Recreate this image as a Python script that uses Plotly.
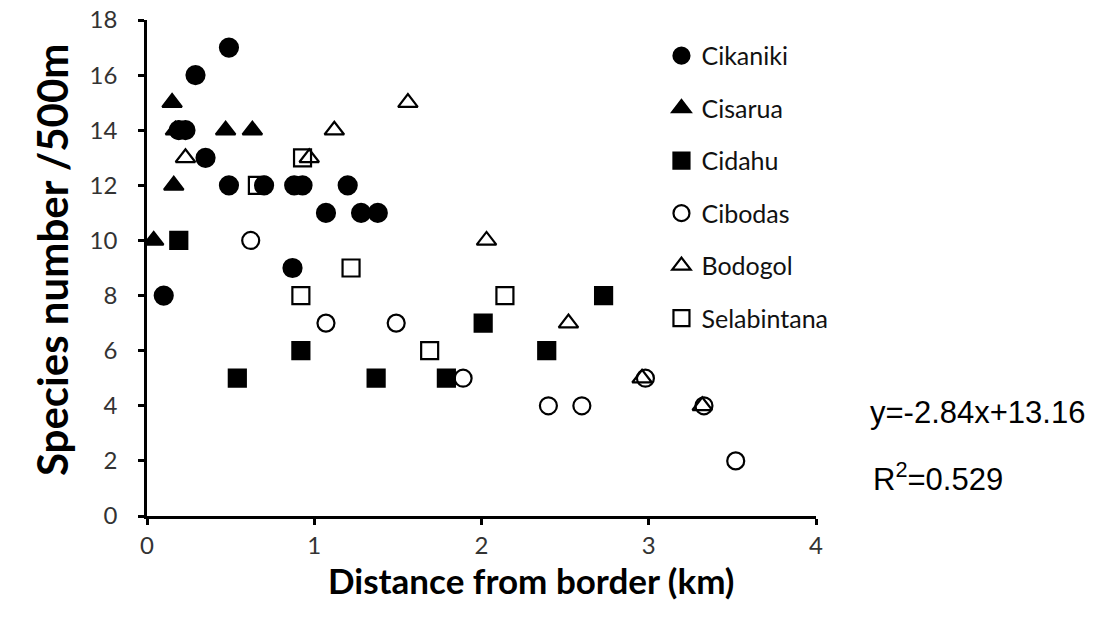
import plotly.graph_objects as go

# ---- data ----
cikaniki_x = [0.49, 0.29, 0.19, 0.23, 0.35, 0.49, 0.70, 0.88, 0.93, 1.20, 1.07, 1.28, 1.38, 0.87, 0.10]
cikaniki_y = [17, 16, 14, 14, 13, 12, 12, 12, 12, 12, 11, 11, 11, 9, 8]

cisarua_x = [0.15, 0.17, 0.47, 0.63, 0.16, 0.04]
cisarua_y = [15, 14, 14, 14, 12, 10]

cidahu_x = [0.19, 0.54, 0.92, 1.37, 1.79, 2.01, 2.39, 2.73]
cidahu_y = [10, 5, 6, 5, 5, 7, 6, 8]

cibodas_x = [0.19, 0.62, 1.07, 1.49, 1.89, 2.40, 2.60, 2.98, 3.33, 3.52]
cibodas_y = [14, 10, 7, 7, 5, 4, 4, 5, 4, 2]

bodogol_x = [0.23, 0.97, 1.12, 1.56, 2.03, 2.52, 2.96, 3.32]
bodogol_y = [13, 13, 14, 15, 10, 7, 5, 4]

selabintana_x = [0.66, 0.93, 1.22, 0.92, 1.69, 2.14]
selabintana_y = [12, 13, 9, 8, 6, 8]

x_ticks = [0, 1, 2, 3, 4]
y_ticks = [0, 2, 4, 6, 8, 10, 12, 14, 16, 18]

x_title = "<b>Distance from border (km)</b>"
y_title = "<b>Species number /500m</b>"
equation_text = "y=-2.84x+13.16"
r2_text = "R<sup>2</sup>=0.529"

series = [
    ("Cikaniki", cikaniki_x, cikaniki_y, "circle", 18),
    ("Cisarua", cisarua_x, cisarua_y, "triangle-up", 17),
    ("Cidahu", cidahu_x, cidahu_y, "square", 17),
    ("Cibodas", cibodas_x, cibodas_y, "circle-open", 17),
    ("Bodogol", bodogol_x, bodogol_y, "triangle-up-open", 17),
    ("Selabintana", selabintana_x, selabintana_y, "square-open", 17),
]

fig = go.Figure()
for name, xs, ys, sym, size in series:
    fig.add_trace(go.Scatter(
        x=xs, y=ys, mode="markers", name=name, legendgroup=name,
        marker=dict(symbol=sym, size=size, color="black",
                    line=dict(color="black", width=2.2)),
    ))

fig.update_layout(
    width=1093, height=627,
    margin=dict(l=147, r=277, t=20, b=111, autoexpand=False),
    paper_bgcolor="white", plot_bgcolor="white",
    font=dict(family="Lato", color="#222222"),
    showlegend=True,
    legend=dict(x=0.769, y=0.974, xanchor="left", yanchor="top",
                font=dict(family="Lato", size=25, color="#111111"),
                tracegroupgap=17, itemwidth=30, bgcolor="rgba(0,0,0,0)"),
    xaxis=dict(range=[0, 4], tickvals=x_ticks, showgrid=False, zeroline=False,
               showline=True, linecolor="black", linewidth=2.5,
               ticks="outside", ticklen=6, tickwidth=2.5, tickcolor="black",
               automargin=False,
               tickfont=dict(family="Lato", size=24, color="#333333")),
    yaxis=dict(range=[0, 18], tickvals=y_ticks, showgrid=False, zeroline=False,
               showline=True, linecolor="black", linewidth=2.5,
               ticks="outside", ticklen=6, tickwidth=2.5, tickcolor="black",
               automargin=False,
               tickfont=dict(family="Lato", size=24, color="#333333"),
               ticklabelstandoff=16),
)

fig.add_annotation(text=x_title, xref="paper", yref="paper", x=0.574, y=-0.129,
                   xanchor="center", yanchor="middle", showarrow=False,
                   font=dict(family="Lato", size=35, color="black"))
fig.add_annotation(text=y_title, xref="paper", yref="paper", x=-0.142, y=0.516,
                   xanchor="center", yanchor="middle", showarrow=False, textangle=-90,
                   font=dict(family="Lato", size=42, color="black"))
fig.add_annotation(text=equation_text, xref="paper", yref="paper", x=1.078, y=0.2077,
                   xanchor="left", yanchor="middle", showarrow=False,
                   font=dict(family="Liberation Sans", size=31, color="black"))
fig.add_annotation(text=r2_text, xref="paper", yref="paper", x=1.082, y=0.0786,
                   xanchor="left", yanchor="middle", showarrow=False,
                   font=dict(family="Liberation Sans", size=31, color="black"))

fig.write_html("out.html")
